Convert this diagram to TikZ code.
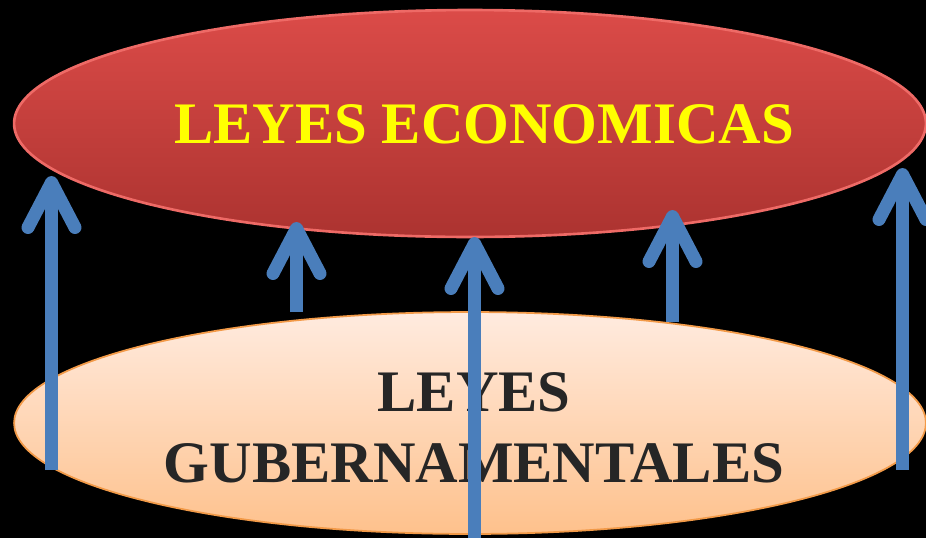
\documentclass[tikz,border=0pt]{standalone}
\usepackage{fontspec}
\setmainfont{Liberation Serif}
\usetikzlibrary{positioning,arrows.meta,shapes.geometric}
\definecolor{redtop}{HTML}{DB4B48}
\definecolor{redbot}{HTML}{AC3330}
\definecolor{redrim}{HTML}{EE6A66}
\definecolor{peachtop}{HTML}{FFEBDF}
\definecolor{peachbot}{HTML}{FEC18C}
\definecolor{peachrim}{HTML}{F29A48}
\definecolor{arrowblue}{HTML}{4A7EBB}
\definecolor{titleyellow}{HTML}{FFFF00}
\definecolor{darktext}{HTML}{262626}
\tikzset{%
  topoval/.style  = {ellipse, minimum width=18.24cm, minimum height=4.54cm,
    top color=redtop, bottom color=redbot, draw=redrim, line width=1.5pt}, % upper oval
  baseoval/.style = {ellipse, minimum width=18.24cm, minimum height=4.44cm,
    top color=peachtop, bottom color=peachbot, draw=peachrim, line width=1pt}, % lower oval
  bigtext/.style  = {font=\bfseries\fontsize{33.5}{40.4}\selectfont, align=center, inner sep=0pt},
  uparrow/.style  = {draw=arrowblue, line width=0.26cm,
    -{Straight Barb[length=0.9cm, width=0.94cm, round]}}
}

\begin{document}
\begin{tikzpicture}[x=0.02cm, y=-0.02cm]

  \useasboundingbox (0,0) rectangle (926,538);
  \fill[black] (0,0) rectangle (926,538);

  \node[topoval] (econ) at (470,123.5) {};
  \node[baseoval] (gob) at (470,423) {};

  \node[bigtext, text=titleyellow] (econtext) at (484,124.5) {LEYES ECONOMICAS};
  \node[bigtext, text=darktext] (gobtext) at (474,427.5) {LEYES\\GUBERNAMENTALES};

  % arrows from the lower oval up to the upper one
  \coordinate (s1) at (51.5,470);  \coordinate (e1) at (51.5,176);
  \coordinate (s2) at (296.5,312); \coordinate (e2) at (296.5,222);
  \coordinate (s3) at (474.5,538); \coordinate (e3) at (474.5,237);
  \coordinate (s4) at (672.5,322); \coordinate (e4) at (672.5,210);
  \coordinate (s5) at (902.5,470); \coordinate (e5) at (902.5,168);

  \draw[uparrow] (s1) -- (e1);
  \draw[uparrow] (s2) -- (e2);
  \draw[uparrow] (s3) -- (e3);
  \draw[uparrow] (s4) -- (e4);
  \draw[uparrow] (s5) -- (e5);

\end{tikzpicture}
\end{document}
